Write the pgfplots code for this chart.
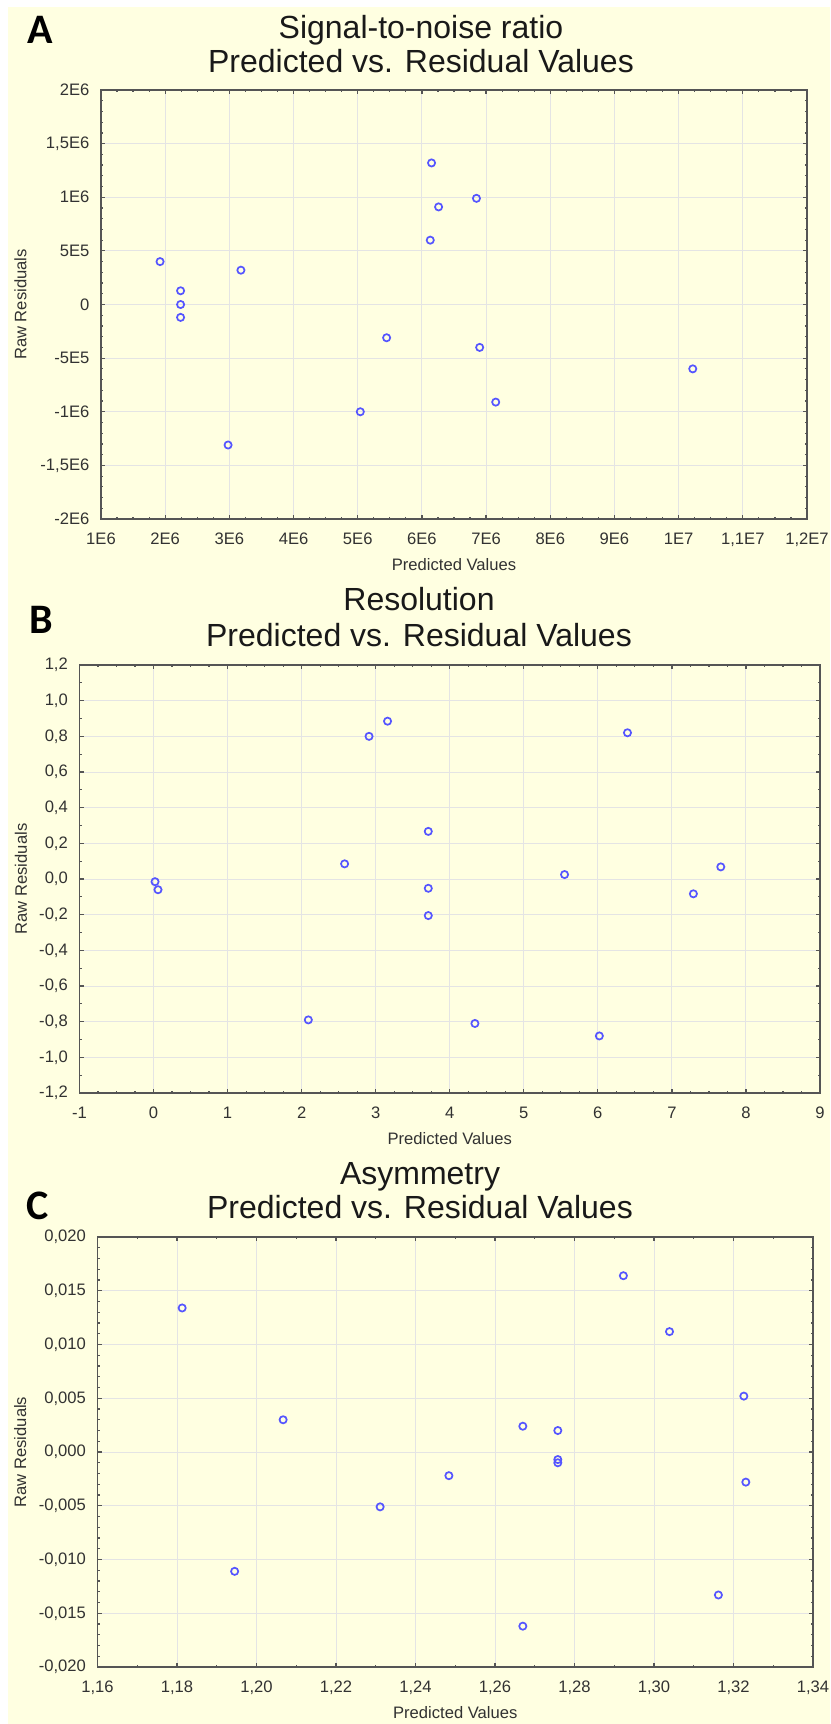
\documentclass[border=0pt]{standalone}
\usepackage{pgfplots}
\pgfplotsset{compat=1.18}
\usepackage{fontspec}
\setmainfont{Liberation Sans}
\newfontfamily\panelfont{Carlito}

\definecolor{bgyellow}{RGB}{255,255,225}
\definecolor{ptblue}{RGB}{85,85,255}
\definecolor{gridgray}{RGB}{228,228,228}
\definecolor{framegray}{RGB}{85,85,85}
\definecolor{labgray}{RGB}{50,50,50}
\definecolor{titleblack}{RGB}{25,25,25}

% predicted vs raw residuals, one table per panel
\pgfplotstableread{
pred resid
1.92e6 4.0e5
2.24e6 1.28e5
2.24e6 0
2.24e6 -1.2e5
3.18e6 3.2e5
2.98e6 -1.31e6
5.04e6 -1.0e6
5.45e6 -3.1e5
6.15e6 1.32e6
6.13e6 6.0e5
6.26e6 9.1e5
6.85e6 9.9e5
6.90e6 -4.0e5
7.15e6 -9.1e5
1.022e7 -6.0e5
}\snrdata

\pgfplotstableread{
pred resid
0.02 -0.015
0.06 -0.06
2.09 -0.79
2.58 0.085
2.91 0.80
3.16 0.885
3.71 0.267
3.71 -0.052
3.71 -0.205
4.34 -0.81
5.55 0.025
6.02 -0.88
6.40 0.82
7.29 -0.083
7.66 0.068
}\resdata

\pgfplotstableread{
pred resid
1.1813 0.0134
1.1945 -0.0111
1.2067 0.0030
1.2311 -0.0051
1.2484 -0.0022
1.2670 0.0024
1.2670 -0.0162
1.2758 0.0020
1.2758 -0.0007
1.2758 -0.0010
1.2923 0.0164
1.3039 0.0112
1.3162 -0.0133
1.3226 0.0052
1.3231 -0.0028
}\asymdata

\pgfplotsset{
  resid/.style={
    scale only axis,
    anchor=south west,
    scaled ticks=false,
    axis line style={framegray, line width=0.9pt},
    grid=major,
    major grid style={gridgray, line width=0.5pt},
    tick style={framegray, line width=0.6pt},
    major tick length=2.2pt,
    minor tick length=1.2pt,
    tick align=inside,
    ticklabel style={font=\fontsize{8.3}{9}\selectfont, text=labgray},
    xticklabel style={yshift=-3.4pt},
    yticklabel style={xshift=-2.3pt},
    label style={font=\fontsize{8.3}{9}\selectfont, text=labgray},
    xlabel={Predicted Values},
    ylabel={Raw Residuals},
    xlabel style={at={(axis description cs:0.5,0)}, anchor=center, yshift=-23pt},
  },
  dots/.style={only marks, mark=o, ptblue, mark size=1.8pt, line width=0.85pt},
}

\begin{document}
\begin{tikzpicture}
\useasboundingbox (0,0) rectangle (415pt,-862pt);
\fill[white] (0,0) rectangle (415pt,-862pt);
\fill[bgyellow] (4pt,-3.5pt) rectangle (415pt,-862pt);

% titles and panel letters
\begin{scope}[every node/.style={inner sep=0pt, anchor=base, text=titleblack, font=\fontsize{16}{19}\selectfont}]
  \node at (210.5pt,-19.25pt) {Signal-to-noise ratio};
  \node at (210.5pt,-36pt) {Predicted vs. Residual Values};
  \node at (209.5pt,-305.35pt) {Resolution};
  \node at (209.5pt,-323pt) {Predicted vs. Residual Values};
  \node at (210pt,-592.25pt) {Asymmetry};
  \node at (210pt,-609pt) {Predicted vs. Residual Values};
\end{scope}
\begin{scope}[every node/.style={inner sep=0pt, anchor=base west, font=\panelfont\bfseries\fontsize{21}{24}\selectfont}]
  \node at (13.5pt,-21.65pt) {A};
  \node at (14.5pt,-316.5pt) {B};
  \node at (13pt,-609.8pt) {C};
\end{scope}

% A: signal-to-noise ratio
\begin{axis}[resid,
  at={(50.5pt,-259.5pt)}, width=353pt, height=214.5pt,
  xmin=1e6, xmax=1.2e7, ymin=-2e6, ymax=2e6,
  xtick={1e6,2e6,3e6,4e6,5e6,6e6,7e6,8e6,9e6,1e7,1.1e7,1.2e7},
  xticklabels={1E6,2E6,3E6,4E6,5E6,6E6,7E6,8E6,9E6,1E7,{1,1E7},{1,2E7}},
  ytick={-2e6,-1.5e6,-1e6,-5e5,0,5e5,1e6,1.5e6,2e6},
  yticklabels={-2E6,{-1,5E6},-1E6,-5E5,0,5E5,1E6,{1,5E6},2E6},
  minor x tick num=3, minor y tick num=4,
  ylabel style={at={(axis description cs:-0.114,0.5)}, anchor=center},
]
\addplot[dots] table[x=pred, y=resid] {\snrdata};
\end{axis}

% B: resolution
\begin{axis}[resid,
  at={(39.75pt,-546.5pt)}, width=370.25pt, height=214pt,
  xmin=-1, xmax=9, ymin=-1.2, ymax=1.2,
  xtick={-1,0,1,2,3,4,5,6,7,8,9},
  xticklabels={-1,0,1,2,3,4,5,6,7,8,9},
  ytick={-1.2,-1,-0.8,-0.6,-0.4,-0.2,0,0.2,0.4,0.6,0.8,1,1.2},
  yticklabels={{-1,2},{-1,0},{-0,8},{-0,6},{-0,4},{-0,2},{0,0},{0,2},{0,4},{0,6},{0,8},{1,0},{1,2}},
  minor x tick num=3, minor y tick num=1,
  ylabel style={at={(axis description cs:-0.079,0.5)}, anchor=center},
]
\addplot[dots] table[x=pred, y=resid] {\resdata};
\end{axis}

% C: asymmetry
\begin{axis}[resid,
  at={(48.75pt,-833.5pt)}, width=357.75pt, height=215pt,
  xmin=1.16, xmax=1.34, ymin=-0.02, ymax=0.02,
  xtick={1.16,1.18,1.20,1.22,1.24,1.26,1.28,1.30,1.32,1.34},
  xticklabels={{1,16},{1,18},{1,20},{1,22},{1,24},{1,26},{1,28},{1,30},{1,32},{1,34}},
  ytick={-0.02,-0.015,-0.01,-0.005,0,0.005,0.01,0.015,0.02},
  yticklabels={{-0,020},{-0,015},{-0,010},{-0,005},{0,000},{0,005},{0,010},{0,015},{0,020}},
  minor x tick num=1, minor y tick num=4,
  ylabel style={at={(axis description cs:-0.108,0.5)}, anchor=center},
]
\addplot[dots] table[x=pred, y=resid] {\asymdata};
\end{axis}
\end{tikzpicture}
\end{document}
